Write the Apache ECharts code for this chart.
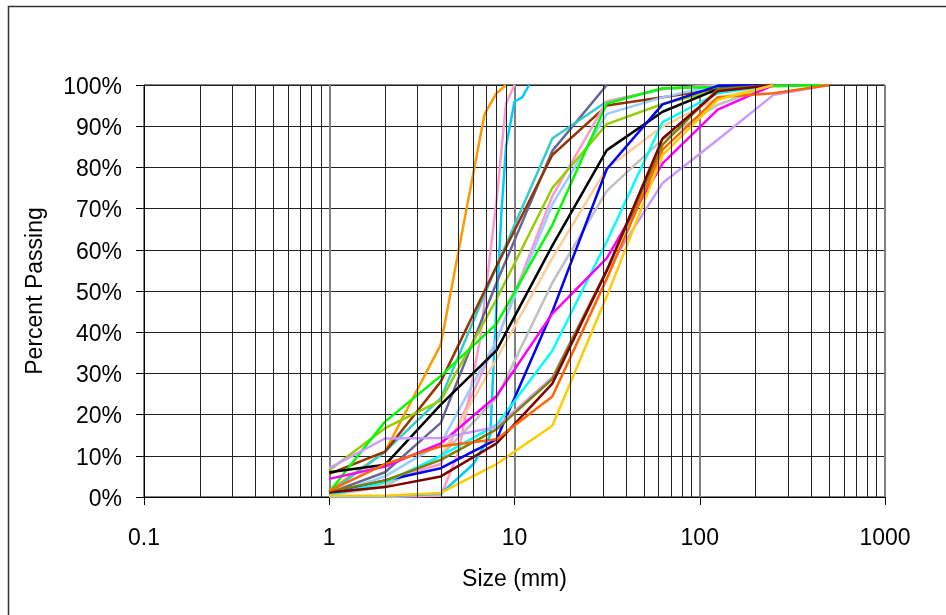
<!DOCTYPE html>
<html>
<head>
<meta charset="utf-8">
<script src="https://cdn.jsdelivr.net/npm/echarts@6/dist/echarts.min.js"></script>
<style>
html,body{margin:0;padding:0;background:#fff;}
#chart{width:946px;height:615px;}
</style>
</head>
<body>
<div id="chart"></div>
<script>
// ---- data: [size (mm), percent passing] ----
const orange      = [[1,1.5],[2,11],[4,37],[6.9,93],[8,98],[9,100]];
const pinkSteep   = [[1,0],[2,0],[4,0.3],[5,11],[6.5,38],[8,72],[9,95.5],[10,100]];
const skyBlue     = [[1,0.2],[2,0.2],[4,0.8],[6,8],[7.4,15],[7.8,37],[8.5,69],[9,85],[10,96],[11,97],[12,100]];
const slate       = [[1,1],[2,6],[4,18],[8,52],[16,84],[31.5,100]];
const teal        = [[1,1],[2,11],[4,24],[8,56],[16,87],[31.5,96],[63,99],[125,100]];
const brown       = [[1,5.6],[2,11],[4,28],[8,56],[16,83],[31.5,95],[63,97],[125,99],[250,100]];
const lightPink   = [[1,1],[2,4],[4,8],[8,38],[16,73],[31.5,96],[63,99],[125,100]];
const lightBlue   = [[1,0.5],[2,5],[4,13],[8,38],[16,71],[31.5,93],[63,97],[125,100]];
const yellowGreen = [[1,6.5],[2,16.7],[4,23.4],[8,48],[16,75],[31.5,90.5],[63,95.4],[125,98.8],[250,100]];
const green       = [[1,1.2],[2,18.3],[4,29.4],[8,42],[16,66],[31.5,95.5],[63,99.2],[125,99.5],[250,99.7],[500,100]];
const black       = [[1,6],[2,7.8],[4,22.4],[8,35.6],[16,61],[31.5,84.2],[63,93.5],[125,99],[250,100]];
const peach       = [[1,0.5],[2,3],[4,10],[8,33.5],[16,58],[31.5,79.8],[63,89.9],[125,96.8],[250,100]];
const blue        = [[1,0.7],[2,4],[4,7],[8,14],[16,45],[31.5,79.6],[63,95.3],[125,99.8],[250,100]];
const silver      = [[1,0.5],[2,2.5],[4,10],[8,24],[16,52],[31.5,74.3],[63,86.8],[125,95.2],[250,100]];
const cyan        = [[1,0.5],[2,3.5],[4,10],[8,17.5],[16,35.5],[31.5,62],[63,91],[125,98],[250,100]];
const magenta     = [[1,4.4],[2,7.4],[4,13],[8,24.5],[16,44.5],[31.5,58],[63,81],[125,94],[250,100]];
const lavender    = [[1,7],[2,14.2],[4,14.3],[8,17],[16,29],[31.5,55],[63,76.2],[125,86.7],[250,97.6],[500,100]];
const darkRed     = [[1,1.1],[2,2.4],[4,5],[8,13],[16,27.5],[31.5,55],[63,87],[125,98.5],[250,100]];
const olive       = [[1,1.3],[2,4],[4,9],[8,16.4],[16,28.6],[31.5,55],[63,85.5],[125,99],[250,100]];
const orangeRed   = [[1,1.5],[2,8],[4,12.3],[8,14],[16,24.4],[31.5,53],[63,84.3],[125,97],[250,98],[500,100]];
const gold        = [[1,0.3],[2,0.3],[4,1],[8,8],[16,17.3],[31.5,48.7],[63,83],[125,96.4],[250,100]];

const xTickLabels = ['0.1','1','10','100','1000'];
const decades = [0.1, 1, 10, 100];
const minorMultipliers = [2,3,4,5,6,7,8,9];

const seriesDefs = [
  ['orange', orange, '#FF9900'],
  ['pinkSteep', pinkSteep, '#FF99CC'],
  ['skyBlue', skyBlue, '#00CCFF'],
  ['slate', slate, '#666699'],
  ['teal', teal, '#33CCCC'],
  ['brown', brown, '#993300'],
  ['lightPink', lightPink, '#FF99CC'],
  ['lightBlue', lightBlue, '#99CCFF'],
  ['yellowGreen', yellowGreen, '#99CC00'],
  ['green', green, '#00FF00'],
  ['peach', peach, '#FFCC99'],
  ['black', black, '#000000'],
  ['silver', silver, '#C0C0C0'],
  ['blue', blue, '#0000FF'],
  ['cyan', cyan, '#00FFFF'],
  ['magenta', magenta, '#FF00FF'],
  ['lavender', lavender, '#CC99FF'],
  ['olive', olive, '#808000'],
  ['darkRed', darkRed, '#800000'],
  ['orangeRed', orangeRed, '#FF6600'],
  ['gold', gold, '#FFCC00']
];

const minorLines = [];
decades.forEach(d => minorMultipliers.forEach(m => minorLines.push({xAxis: +(d*m).toPrecision(6)})));

const FONT = 'Liberation Sans, Arial, sans-serif';

const series = [{
  name: 'grid',
  type: 'line',
  data: [[1, 0]],
  showSymbol: false,
  symbol: 'none',
  lineStyle: {opacity: 0},
  silent: true,
  z: 1,
  markLine: {
    silent: true,
    symbol: ['none','none'],
    label: {show: false},
    lineStyle: {type: 'solid', color: '#222', width: 1},
    animation: false,
    data: minorLines
  }
}];
seriesDefs.forEach(([name, data, color]) => {
  series.push({
    name: name,
    type: 'line',
    data: data,
    symbol: 'none',
    showSymbol: false,
    z: 3,
    lineStyle: {color: color, width: 2.5},
    itemStyle: {color: color}
  });
});

const chart = echarts.init(document.getElementById('chart'));
chart.setOption({
  backgroundColor: '#fff',
  animation: false,
  graphic: [{
    type: 'rect',
    shape: {x: 8.5, y: 6.5, width: 1000, height: 700},
    style: {fill: 'none', stroke: '#333', lineWidth: 1.5},
    silent: true
  }],
  grid: {
    left: 144, top: 85, width: 741, height: 412,
    show: true, borderColor: '#000', borderWidth: 1, backgroundColor: 'transparent'
  },
  xAxis: {
    type: 'log',
    logBase: 10,
    min: 0.1,
    max: 1000,
    name: 'Size (mm)',
    nameLocation: 'middle',
    nameGap: 71,
    nameTextStyle: {fontFamily: FONT, fontSize: 23, color: '#000'},
    axisLine: {show: true, lineStyle: {color: '#000', width: 1}},
    axisTick: {show: true, inside: false, length: 8, lineStyle: {color: '#000'}},
    axisLabel: {
      margin: 30, fontFamily: FONT, fontSize: 23, color: '#000',
      formatter: v => {
        const idx = Math.round(Math.log10(v)) + 1;
        return xTickLabels[idx] !== undefined ? xTickLabels[idx] : '';
      }
    },
    splitLine: {show: true, lineStyle: {color: '#808080', width: 2}},
    minorTick: {show: false},
    minorSplitLine: {show: false}
  },
  yAxis: {
    type: 'value',
    min: 0,
    max: 100,
    interval: 10,
    name: 'Percent Passing',
    nameLocation: 'middle',
    nameGap: 97,
    nameRotate: 90,
    nameTextStyle: {fontFamily: FONT, fontSize: 23, color: '#000'},
    axisLine: {show: true, lineStyle: {color: '#000', width: 1}},
    axisTick: {show: true, inside: false, length: 8, lineStyle: {color: '#000'}},
    axisLabel: {
      margin: 22, fontFamily: FONT, fontSize: 23, color: '#000',
      formatter: v => '{a|' + v + '%}',
      rich: {a: {fontFamily: FONT, fontSize: 23, color: '#000', padding: [5, 0, 0, 0]}}
    },
    splitLine: {show: true, lineStyle: {color: '#222', width: 1.2}}
  },
  series: series
});
</script>
</body>
</html>
